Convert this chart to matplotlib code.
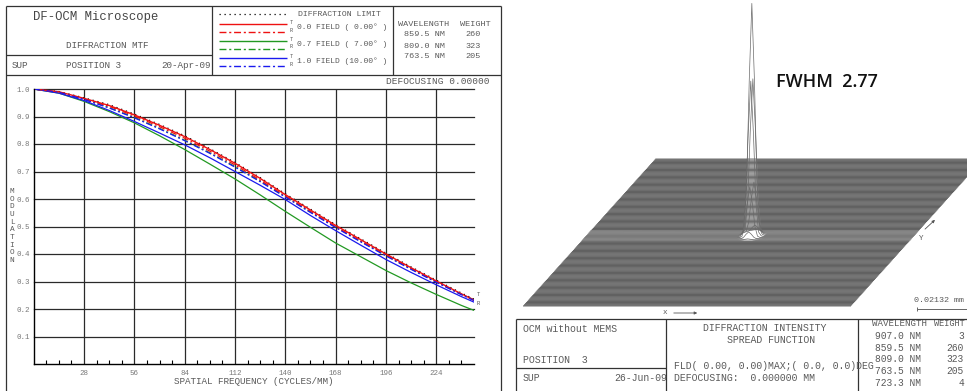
import numpy as np
import matplotlib
matplotlib.use("Agg")
import matplotlib.pyplot as plt

# ---------------- MTF data (cycles/mm vs modulation) ----------------
freq = [0, 14, 28, 42, 56, 70, 84, 98, 112, 126, 140, 154, 168, 182, 196, 210, 224, 238, 245]
mtf_diff_limit = [1.0, 0.991, 0.968, 0.943, 0.909, 0.871, 0.830, 0.783, 0.733, 0.678, 0.619,
                  0.563, 0.507, 0.455, 0.403, 0.353, 0.305, 0.258, 0.236]
mtf_f00_t = [1.0, 0.990, 0.966, 0.940, 0.906, 0.868, 0.827, 0.780, 0.730, 0.675, 0.616,
             0.560, 0.504, 0.452, 0.400, 0.350, 0.302, 0.255, 0.233]
mtf_f00_r = [1.0, 0.989, 0.964, 0.937, 0.902, 0.863, 0.821, 0.774, 0.724, 0.669, 0.611,
             0.555, 0.499, 0.447, 0.396, 0.347, 0.299, 0.253, 0.231]
mtf_f07_t = [1.0, 0.985, 0.955, 0.918, 0.877, 0.830, 0.780, 0.727, 0.673, 0.615, 0.555,
             0.497, 0.440, 0.390, 0.340, 0.295, 0.253, 0.213, 0.195]
mtf_f07_r = [1.0, 0.988, 0.963, 0.932, 0.897, 0.857, 0.814, 0.768, 0.718, 0.665, 0.609,
             0.553, 0.498, 0.446, 0.395, 0.346, 0.299, 0.254, 0.233]
mtf_f10_t = [1.0, 0.985, 0.958, 0.922, 0.882, 0.840, 0.797, 0.750, 0.700, 0.650, 0.598,
             0.540, 0.485, 0.432, 0.380, 0.333, 0.288, 0.245, 0.225]
mtf_f10_r = [1.0, 0.988, 0.962, 0.931, 0.895, 0.855, 0.812, 0.766, 0.716, 0.663, 0.607,
             0.551, 0.496, 0.444, 0.393, 0.344, 0.297, 0.252, 0.231]

freq_max = 245
x_ticks = [28, 56, 84, 112, 140, 168, 196, 224]
y_ticks = [0.1, 0.2, 0.3, 0.4, 0.5, 0.6, 0.7, 0.8, 0.9, 1.0]

field_labels = ["0.0 FIELD ( 0.00\u00b0 )", "0.7 FIELD ( 7.00\u00b0 )", "1.0 FIELD (10.00\u00b0 )"]
field_colors = ["#ee1111", "#229922", "#1a1aee"]
mtf_wavelengths = ["859.5 NM", "809.0 NM", "763.5 NM"]
mtf_weights = [260, 323, 205]

# ---------------- PSF data ----------------
psf_wavelengths = ["907.0 NM", "859.5 NM", "809.0 NM", "763.5 NM", "723.3 NM"]
psf_weights = [3, 260, 323, 205, 4]
psf_offsets = [0, 1, 2, 3, 4]                      # grid steps from the peak
psf_profile = [1.0, 0.67, 0.22, 0.03, 0.005]       # normalised intensity
psf_grid = 128
fwhm = 2.77

MONO = "Liberation Mono"
TXT = "#5a5a5a"

fig = plt.figure(figsize=(9.67, 3.91), dpi=100)
W_PX, H_PX = 967, 391


def frac_box(x0, y0, x1, y1):
    return [x0 / W_PX, 1 - y1 / H_PX, (x1 - x0) / W_PX, (y1 - y0) / H_PX]


# ---------------- PSF surface (oblique hidden-line view) ----------------
ps = fig.add_axes([0, 0, 1, 1], zorder=1)
ps.set_xlim(0, W_PX)
ps.set_ylim(H_PX, 0)
ps.axis("off")

X0, Y0 = 523.0, 306.0        # front-left corner of the plane
PW, PH = 328.0, 147.0        # plane width / depth on screen
SHEAR = 0.9
ZSCALE = 232.0
rc, cc = 61, 64
n = psf_grid
dxp = PW / (n - 1)
dyp = PH / (n - 1)


def prof(o):
    o = abs(int(o))
    return psf_profile[psf_offsets.index(o)] if o in psf_offsets else 0.0


cols = np.arange(n)
pc = np.array([prof(c - cc) for c in cols])

ps.fill([X0, X0 + PW, X0 + PW + PH * SHEAR, X0 + PH * SHEAR],
        [Y0, Y0, Y0 - PH, Y0 - PH], color="#a0a0a0", lw=0)

for r in range(n - 1, -1, -1):
    z = prof(r - rc) * pc
    base = Y0 - r * dyp
    xs = X0 + cols * dxp + r * dyp * SHEAR
    if z.max() > 0:
        ys = base - z * ZSCALE
        ps.fill_between(xs, base, ys, color="white", lw=0)
        ps.plot(xs, ys, color="#6a6a6a", lw=0.5)
    else:
        ps.plot([xs[0], xs[-1]], [base, base], color="#555555", lw=0.6,
                snap=False, solid_capstyle="butt")

ps.text(776, 82, f"FWHM  {fwhm:.2f}", fontsize=13, family="Open Sans",
        fontweight="semibold", va="center", ha="left", color="#111111")

# ---------------- MTF axes ----------------
ax = fig.add_axes(frac_box(33.7, 89, 474, 364), zorder=2)
ax.set_facecolor("none")
ax.set_xlim(0, freq_max)
ax.set_ylim(0, 1.0)
for v in x_ticks:
    ax.axvline(v, color="#2a2a2a", lw=0.9, zorder=1)
for v in y_ticks:
    ax.axhline(v, color="#2a2a2a", lw=0.9, zorder=1, clip_on=False)

ax.plot(freq, mtf_diff_limit, color="black", lw=0.9, ls=(0, (1, 3)), zorder=3)
ax.plot(freq, mtf_f07_r, color=field_colors[1], lw=0.9, ls=(0, (5, 2, 1.5, 2)), zorder=3)
ax.plot(freq, mtf_f07_t, color=field_colors[1], lw=0.9, zorder=3)
ax.plot(freq, mtf_f10_t, color=field_colors[2], lw=0.9, zorder=3)
ax.plot(freq, mtf_f00_r, color=field_colors[0], lw=0.9, ls=(0, (5, 2, 1.5, 2)), zorder=3)
ax.plot(freq, mtf_f00_t, color=field_colors[0], lw=1.0, zorder=3)
ax.plot(freq, mtf_f10_r, color=field_colors[2], lw=0.9, ls=(0, (5, 2, 1.5, 2)), zorder=3)

ax.annotate("T", (freq[-1], mtf_f00_t[-1]), xytext=(2, 4), textcoords="offset points",
            fontsize=4, family=MONO, color=TXT, va="center", annotation_clip=False)
ax.annotate("R", (freq[-1], mtf_f00_t[-1]), xytext=(2, -2.5), textcoords="offset points",
            fontsize=4, family=MONO, color=TXT, va="center", annotation_clip=False)

for s in ["top", "right"]:
    ax.spines[s].set_visible(False)
for s in ["left", "bottom"]:
    ax.spines[s].set_color("black")
    ax.spines[s].set_linewidth(1.0)
    ax.spines[s].set_zorder(4)

ax.set_xticks(x_ticks)
ax.set_xticklabels([str(v) for v in x_ticks])
ax.set_xticks([v for v in range(7, freq_max, 7) if v % 28], minor=True)
ax.set_yticks(y_ticks)
ax.set_yticklabels([f"{v:.1f}" for v in y_ticks])
ax.tick_params(axis="x", which="major", length=0, pad=4, labelsize=5.4, labelcolor="#777777")
ax.tick_params(axis="x", which="minor", direction="in", length=3, width=0.8, color="black")
ax.tick_params(axis="y", which="major", length=0, pad=3, labelsize=5.4, labelcolor="#777777")
for lab in ax.get_xticklabels() + ax.get_yticklabels():
    lab.set_family(MONO)

# ---------------- overlay: frames, headers, tables ----------------
ov = fig.add_axes([0, 0, 1, 1], zorder=3)
ov.set_facecolor("none")
ov.set_xlim(0, W_PX)
ov.set_ylim(H_PX, 0)
ov.axis("off")


def seg(x0, y0, x1, y1, color="#333333", lw=0.9, **kw):
    ov.plot([x0, x1], [y0, y1], color=color, lw=lw, solid_capstyle="butt", **kw)


def txt(x, y, s, size=6.7, ha="left", color=TXT, **kw):
    ov.text(x, y, s, fontsize=size, family=MONO, ha=ha, va="center", color=color, **kw)


# left panel frame
seg(6, 6, 501, 6)
seg(6, 6, 6, 391)
seg(501, 6, 501, 391)
seg(6, 74.5, 501, 74.5)
seg(212, 6, 212, 74.5)
seg(393, 6, 393, 74.5)
seg(6, 55, 212, 55)

txt(33, 17, "DF-OCM Microscope", size=8.8, color="#444444")
txt(66, 45, "DIFFRACTION MTF", size=6.7)
txt(12, 65, "SUP", size=6.7)
txt(66, 65, "POSITION 3", size=6.7)
txt(211, 65, "20-Apr-09", size=6.7, ha="right")

# legend block
seg(219, 14, 287, 14, color="black", lw=0.9, ls=(0, (1, 3)))
txt(298, 14, "DIFFRACTION LIMIT", size=5.9)
leg_y = [24, 41, 58]
for yy, col, lab in zip(leg_y, field_colors, field_labels):
    seg(219, yy, 287, yy, color=col, lw=1.0)
    seg(219, yy + 7.5, 287, yy + 7.5, color=col, lw=1.0, ls=(0, (5, 2, 1.5, 2)))
    txt(290, yy - 1.5, "T", size=3.8)
    txt(290, yy + 6, "R", size=3.8)
    txt(297, yy + 3, lab, size=5.8)

txt(398, 25, "WAVELENGTH", size=6.1)
txt(460, 25, "WEIGHT", size=6.1)
for i, (wl, wt) in enumerate(zip(mtf_wavelengths, mtf_weights)):
    txt(404, 35 + 11 * i, wl, size=6.1)
    txt(481, 35 + 11 * i, str(wt), size=6.1, ha="right")

txt(490, 81, "DEFOCUSING 0.00000", size=6.8, ha="right")
txt(12, 226, "\n".join("MODULATION"), size=5.6, ha="center", linespacing=1.13)
txt(254, 382, "SPATIAL FREQUENCY (CYCLES/MM)", size=6.7, ha="center")

# PSF axis markers and scale bar
txt(663, 313, "x", size=5.5)
ov.annotate("", xy=(700, 313), xytext=(671, 313),
            arrowprops=dict(arrowstyle="-|>", lw=0.6, color="#555555", mutation_scale=4))
txt(919, 238, "Y", size=5.5)
ov.annotate("", xy=(937, 218), xytext=(923, 231),
            arrowprops=dict(arrowstyle="-|>", lw=0.6, color="#555555", mutation_scale=4))
txt(914, 300, "0.02132 mm", size=6.0)
seg(917, 309, 967, 309, color="#666666", lw=0.7)
seg(917, 307, 917, 311, color="#666666", lw=0.7)

# PSF table
seg(516, 319, 967, 319)
seg(516, 319, 516, 391)
seg(666, 319, 666, 391)
seg(858, 319, 858, 391)
seg(516, 368, 666, 368)

txt(523, 329, "OCM without MEMS", size=7.1)
txt(523, 360, "POSITION  3", size=7.1)
txt(523, 378, "SUP", size=7.1)
txt(667, 378, "26-Jun-09", size=7.1, ha="right")
txt(765, 328, "DIFFRACTION INTENSITY", size=7.1, ha="center")
txt(771, 340, "SPREAD FUNCTION", size=7.1, ha="center")
txt(674, 366, "FLD( 0.00, 0.00)MAX;( 0.0, 0.0)DEG", size=7.1)
txt(674, 378, "DEFOCUSING:  0.000000 MM", size=7.1)

txt(872, 324, "WAVELENGTH", size=6.6)
txt(965, 324, "WEIGHT", size=6.2, ha="right")
for i, (wl, wt) in enumerate(zip(psf_wavelengths, psf_weights)):
    txt(875, 336 + 11.7 * i, wl, size=6.9)
    txt(964, 336 + 11.7 * i, str(wt), size=6.9, ha="right")

fig.savefig("out.png", dpi=100, facecolor="white")
